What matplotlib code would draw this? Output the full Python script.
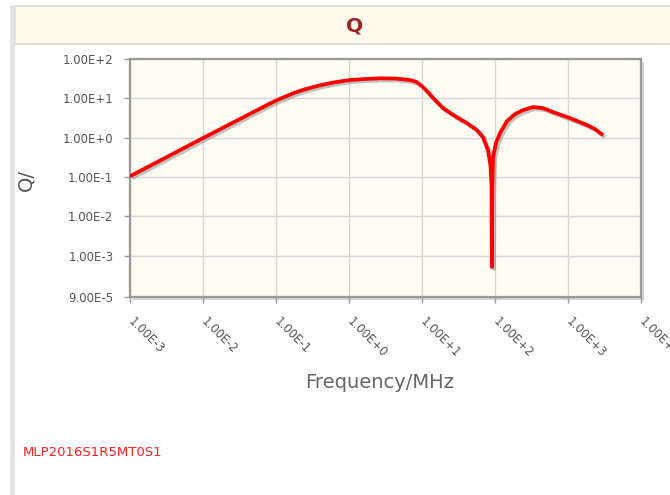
import matplotlib
matplotlib.use("Agg")
import matplotlib.pyplot as plt
import matplotlib.patheffects as pe
from matplotlib.patches import Rectangle

# values (frequency in MHz, Q)
freq = [0.001, 0.00316, 0.01, 0.0316, 0.056, 0.1, 0.178, 0.25, 0.4, 0.63,
        1.03, 1.66, 2.66, 4.27, 6.85, 8.51, 10.3, 12.0, 14.2, 19.4,
        28.3, 41.3, 56.6, 68.5, 80.2, 86.7, 89.5, 90.8, 91.8, 94.0,
        103, 117, 146, 188, 242, 331, 455, 624, 1064, 1820,
        2344, 3020]
q = [0.105, 0.32, 0.98, 2.95, 5.1, 8.8, 13.8, 17.0, 21.5, 25.5,
     29.3, 31.0, 32.3, 31.9, 29.3, 25.8, 19.4, 14.5, 10.2, 5.66,
     3.55, 2.35, 1.56, 1.03, 0.48, 0.20, 0.062, 0.00052, 0.06, 0.32,
     0.73, 1.31, 2.64, 3.98, 5.03, 6.0, 5.66, 4.48, 3.16, 2.1,
     1.66, 1.16]

x_ticks = [1e-3, 1e-2, 1e-1, 1e0, 1e1, 1e2, 1e3, 1e4]
x_labels = ["1.00E-3", "1.00E-2", "1.00E-1", "1.00E+0", "1.00E+1",
            "1.00E+2", "1.00E+3", "1.00E+4"]
y_ticks = [9e-5, 1e-3, 1e-2, 1e-1, 1e0, 1e1, 1e2]
y_labels = ["9.00E-5", "1.00E-3", "1.00E-2", "1.00E-1", "1.00E+0",
            "1.00E+1", "1.00E+2"]
title = "Q"
part_name = "MLP2016S1R5MT0S1"

W, H = 670, 495
fig = plt.figure(figsize=(W / 100, H / 100), dpi=100)
fig.patch.set_facecolor("white")

# page furniture: left bar and title band
fig.patches.append(Rectangle((10 / W, 0), 5 / W, 1 - 6 / H, transform=fig.transFigure,
                             facecolor="#e3e3e3", edgecolor="none", zorder=-2))
fig.patches.append(Rectangle((15 / W, 1 - 44 / H), 660 / W, 38 / H, transform=fig.transFigure,
                             facecolor="#fffaeb", edgecolor="#dcdcdc", linewidth=1.2, zorder=-2))
fig.text(355 / W, 1 - 26 / H, title, ha="center", va="center", fontsize=14.5,
         fontweight="bold", color="#9b2323")

left, right, top, bottom = 130, 641, 59, 297
ax = fig.add_axes([left / W, 1 - bottom / H, (right - left) / W, (bottom - top) / H])

# drop shadow of the plot frame
fig.patches.append(Rectangle(((left + 3) / W, 1 - (bottom + 3) / H), (right - left) / W,
                             (bottom - top) / H, transform=fig.transFigure,
                             facecolor="#d4d4d4", edgecolor="none", zorder=-1))

ax.set_facecolor("#fffcf4")
ax.set_xscale("log")
ax.set_yscale("log")
ax.set_xlim(1e-3, 1e4)
ax.set_ylim(9e-5, 1e2)

ax.plot(freq, q, color="#ff0000", linewidth=2.7, solid_capstyle="butt", solid_joinstyle="round",
        path_effects=[pe.SimpleLineShadow(offset=(1.5, -1.5), shadow_color="#555555", alpha=0.35),
                      pe.Normal()], zorder=3)

ax.set_xticks(x_ticks)
ax.set_xticklabels(x_labels, rotation=-45, ha="left", va="center", rotation_mode="anchor")
ax.set_yticks(y_ticks)
ax.set_yticklabels(y_labels)
ax.minorticks_off()
ax.tick_params(axis="both", direction="out", length=4, width=1, color="#999999",
               labelcolor="#555555", labelsize=8.5)
ax.tick_params(axis="x", pad=12)
ax.tick_params(axis="y", pad=8)
ax.grid(True, color="#d6d6d6", linewidth=1)
ax.set_axisbelow(True)
for s in ax.spines.values():
    s.set_color("#999999")
    s.set_linewidth(1.6)

ax.set_ylabel("Q/", fontsize=14, color="#555555")
ax.yaxis.set_label_coords(-0.186, 0.49)
ax.set_xlabel("Frequency/MHz", fontsize=14, color="#666666", va="center")
ax.xaxis.set_label_coords(0.489, -0.361)

fig.text(23 / W, 1 - 453 / H, part_name, ha="left", va="center", fontsize=9.5, color="#ff2020")

fig.savefig("out.png", dpi=100)
